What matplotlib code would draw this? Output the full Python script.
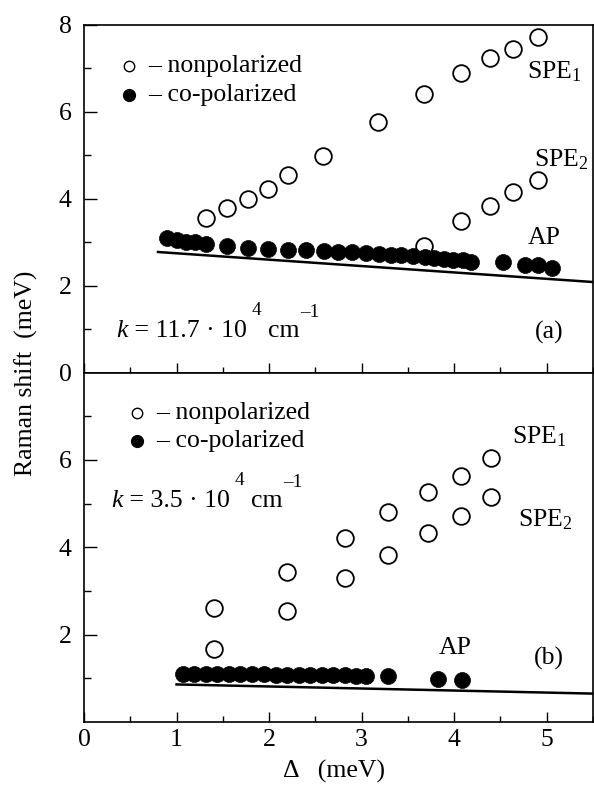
import matplotlib
matplotlib.use("Agg")
import matplotlib.pyplot as plt
from matplotlib.ticker import MultipleLocator, FixedLocator
from matplotlib import font_manager

names = {f.name for f in font_manager.fontManager.ttflist}
serif = [n for n in ['Liberation Serif', 'Times New Roman', 'Nimbus Roman', 'STIXGeneral'] if n in names]
plt.rcParams['font.family'] = serif + ['DejaVu Serif']
plt.rcParams['mathtext.fontset'] = 'custom'
plt.rcParams['mathtext.rm'] = serif[0]
plt.rcParams['mathtext.it'] = serif[0] + ':italic'

# ---------------- data: panel (a), k = 11.7e4 cm^-1 ----------------
a_spe1_x = [1.32, 1.54, 1.77, 1.99, 2.20, 2.58, 3.18, 3.67, 4.07, 4.39, 4.64, 4.91]
a_spe1_y = [3.55, 3.78, 4.00, 4.21, 4.54, 4.98, 5.77, 6.41, 6.88, 7.23, 7.44, 7.71]
a_spe2_x = [3.67, 4.07, 4.39, 4.64, 4.91]
a_spe2_y = [2.91, 3.48, 3.82, 4.15, 4.42]
a_ap_x = [0.90, 1.00, 1.10, 1.20, 1.32, 1.55, 1.77, 1.99, 2.20, 2.40, 2.59, 2.74,
          2.90, 3.05, 3.19, 3.32, 3.43, 3.56, 3.68, 3.78, 3.89, 3.99, 4.09, 4.18,
          4.53, 4.77, 4.91, 5.06]
a_ap_y = [3.09, 3.04, 3.01, 2.99, 2.96, 2.91, 2.86, 2.84, 2.82, 2.82, 2.80, 2.77,
          2.76, 2.74, 2.73, 2.71, 2.70, 2.67, 2.65, 2.63, 2.61, 2.59, 2.58, 2.55,
          2.53, 2.48, 2.46, 2.40]
a_line_x = [0.80, 5.50]
a_line_y = [2.77, 2.08]

# ---------------- data: panel (b), k = 3.5e4 cm^-1 ----------------
b_x = [1.41, 2.19, 2.82, 3.29, 3.72, 4.07, 4.40]
b_spe1_y = [2.60, 3.43, 4.22, 4.81, 5.27, 5.64, 6.04]
b_spe2_y = [1.68, 2.55, 3.29, 3.83, 4.33, 4.72, 5.14]
b_ap_x = [1.07, 1.19, 1.32, 1.44, 1.57, 1.69, 1.82, 1.94, 2.07, 2.19, 2.32, 2.44,
          2.57, 2.69, 2.82, 2.94, 3.05, 3.29, 3.82, 4.08]
b_ap_y = [1.11, 1.11, 1.10, 1.10, 1.10, 1.09, 1.09, 1.09, 1.08, 1.08, 1.08, 1.08,
          1.07, 1.07, 1.07, 1.06, 1.05, 1.05, 0.98, 0.97]
b_line_x = [1.00, 5.50]
b_line_y = [0.86, 0.65]

x_major = [0, 1, 2, 3, 4, 5]
fs = 18.5

W, H = 594, 787
fig = plt.figure(figsize=(W / 100, H / 100), dpi=100)
L, R = 84 / W, 593 / W
ax_a = fig.add_axes([L, 1 - 372.5 / H, R - L, (372.5 - 24.5) / H])
ax_b = fig.add_axes([L, 1 - 722 / H, R - L, (722 - 372.5) / H])

open_kw = dict(marker='o', ls='none', ms=12, mfc='white', mec='black', mew=1.3)
fill_kw = dict(marker='o', ls='none', ms=11.5, mfc='black', mec='black', mew=0.5)

for ax in (ax_a, ax_b):
    ax.set_xlim(0, 5.5)
    ax.set_ylim(0, 8)
    for s in ax.spines.values():
        s.set_linewidth(1.2)
    ax.xaxis.set_major_locator(FixedLocator(x_major))
    ax.xaxis.set_minor_locator(MultipleLocator(0.5))
    ax.yaxis.set_major_locator(MultipleLocator(2))
    ax.yaxis.set_minor_locator(MultipleLocator(1))
    ax.tick_params(axis='both', which='both', direction='in', top=False, right=False,
                   width=1.0, labelsize=fs)
    ax.tick_params(axis='x', which='major', length=7.5, pad=5)
    ax.tick_params(axis='x', which='minor', length=4)
    ax.tick_params(axis='y', which='major', length=9, pad=9)
    ax.tick_params(axis='y', which='minor', length=5)

# panel (a)
ax_a.plot(a_line_x, a_line_y, color='black', lw=1.8, clip_on=True)
ax_a.plot(a_spe1_x, a_spe1_y, **open_kw)
ax_a.plot(a_spe2_x, a_spe2_y, **open_kw)
ax_a.plot(a_ap_x, a_ap_y, **fill_kw)
ax_a.tick_params(axis='x', labelbottom=False)
ax_a.set_yticks([0, 2, 4, 6, 8])

# panel (b)
ax_b.plot(b_line_x, b_line_y, color='black', lw=1.8)
ax_b.plot(b_x, b_spe1_y, **open_kw)
ax_b.plot(b_x, b_spe2_y, **open_kw)
ax_b.plot(b_ap_x, b_ap_y, **fill_kw)
ax_b.set_yticks([2, 4, 6])
ax_b.yaxis.set_minor_locator(FixedLocator([1, 3, 5, 7]))

def px(ax, x, y, bottom, top):
    return ((x - 84) / (593 - 84), (bottom - y) / (bottom - top))

def legend(ax, mx, my1, my2, tx, bottom, top):
    p1 = px(ax, mx, my1, bottom, top)
    p2 = px(ax, mx, my2, bottom, top)
    ax.plot([p1[0]], [p1[1]], marker='o', ms=7.5, mfc='white', mec='black', mew=1.0,
            transform=ax.transAxes, clip_on=False)
    ax.plot([p2[0]], [p2[1]], marker='o', ms=8.5, mfc='black', mec='black',
            transform=ax.transAxes, clip_on=False)
    t = px(ax, tx, 0, bottom, top)[0]
    ax.text(t, p1[1], '– nonpolarized', transform=ax.transAxes, fontsize=fs,
            va='center', ha='left')
    ax.text(t, p2[1], '– co-polarized', transform=ax.transAxes, fontsize=fs,
            va='center', ha='left')

legend(ax_a, 129, 66, 95, 148, 372.5, 24.5)
legend(ax_b, 137, 413, 441, 156, 722, 372.5)

def lbl(ax, x, y, s, bottom, top, ha='left'):
    p = px(ax, x, y, bottom, top)
    ax.text(p[0], p[1], s, transform=ax.transAxes, fontsize=fs, ha=ha, va='center')

lbl(ax_a, 527, 72, 'SPE$_1$', 372.5, 24.5)
lbl(ax_a, 534, 160, 'SPE$_2$', 372.5, 24.5)
lbl(ax_a, 528, 238, 'AP', 372.5, 24.5)
lbl(ax_a, 535, 332, '(a)', 372.5, 24.5)

lbl(ax_b, 512, 437, 'SPE$_1$', 722, 372.5)
lbl(ax_b, 518, 520, 'SPE$_2$', 722, 372.5)
lbl(ax_b, 439, 648, 'AP', 722, 372.5)
lbl(ax_b, 534, 658, '(b)', 722, 372.5)

renderer = fig.canvas.get_renderer()

def ktext(x0, base, value):
    """k = value · 10^4 cm^-1 with high-set superscripts, in figure pixels."""
    pieces = [('k', fs, 0, 'italic', 0), (' = ' + value + ' · 10', fs, 0, 'normal', 5),
              ('4', fs * 0.75, 22, 'normal', 7), ('cm', fs, 0, 'normal', 0),
              ('–1', fs * 0.75, 20, 'normal', 0)]
    x = x0
    for s, size, dy, style, gap in pieces:
        t = fig.text(x / W, (H - base + dy) / H, s, fontsize=size, style=style,
                     ha='left', va='baseline')
        bb = t.get_window_extent(renderer)
        x = bb.x1 + gap

ktext(116.5, 337, '11.7')
ktext(111.5, 507, '3.5')

fig.text(334 / W, 1 - 771 / H, 'Δ   (meV)', fontsize=fs, ha='center', va='center')
fig.text(26 / W, 1 - 373 / H, 'Raman shift  (meV)', rotation=90, fontsize=fs,
         ha='center', va='center')

fig.savefig('out.png', dpi=100)
